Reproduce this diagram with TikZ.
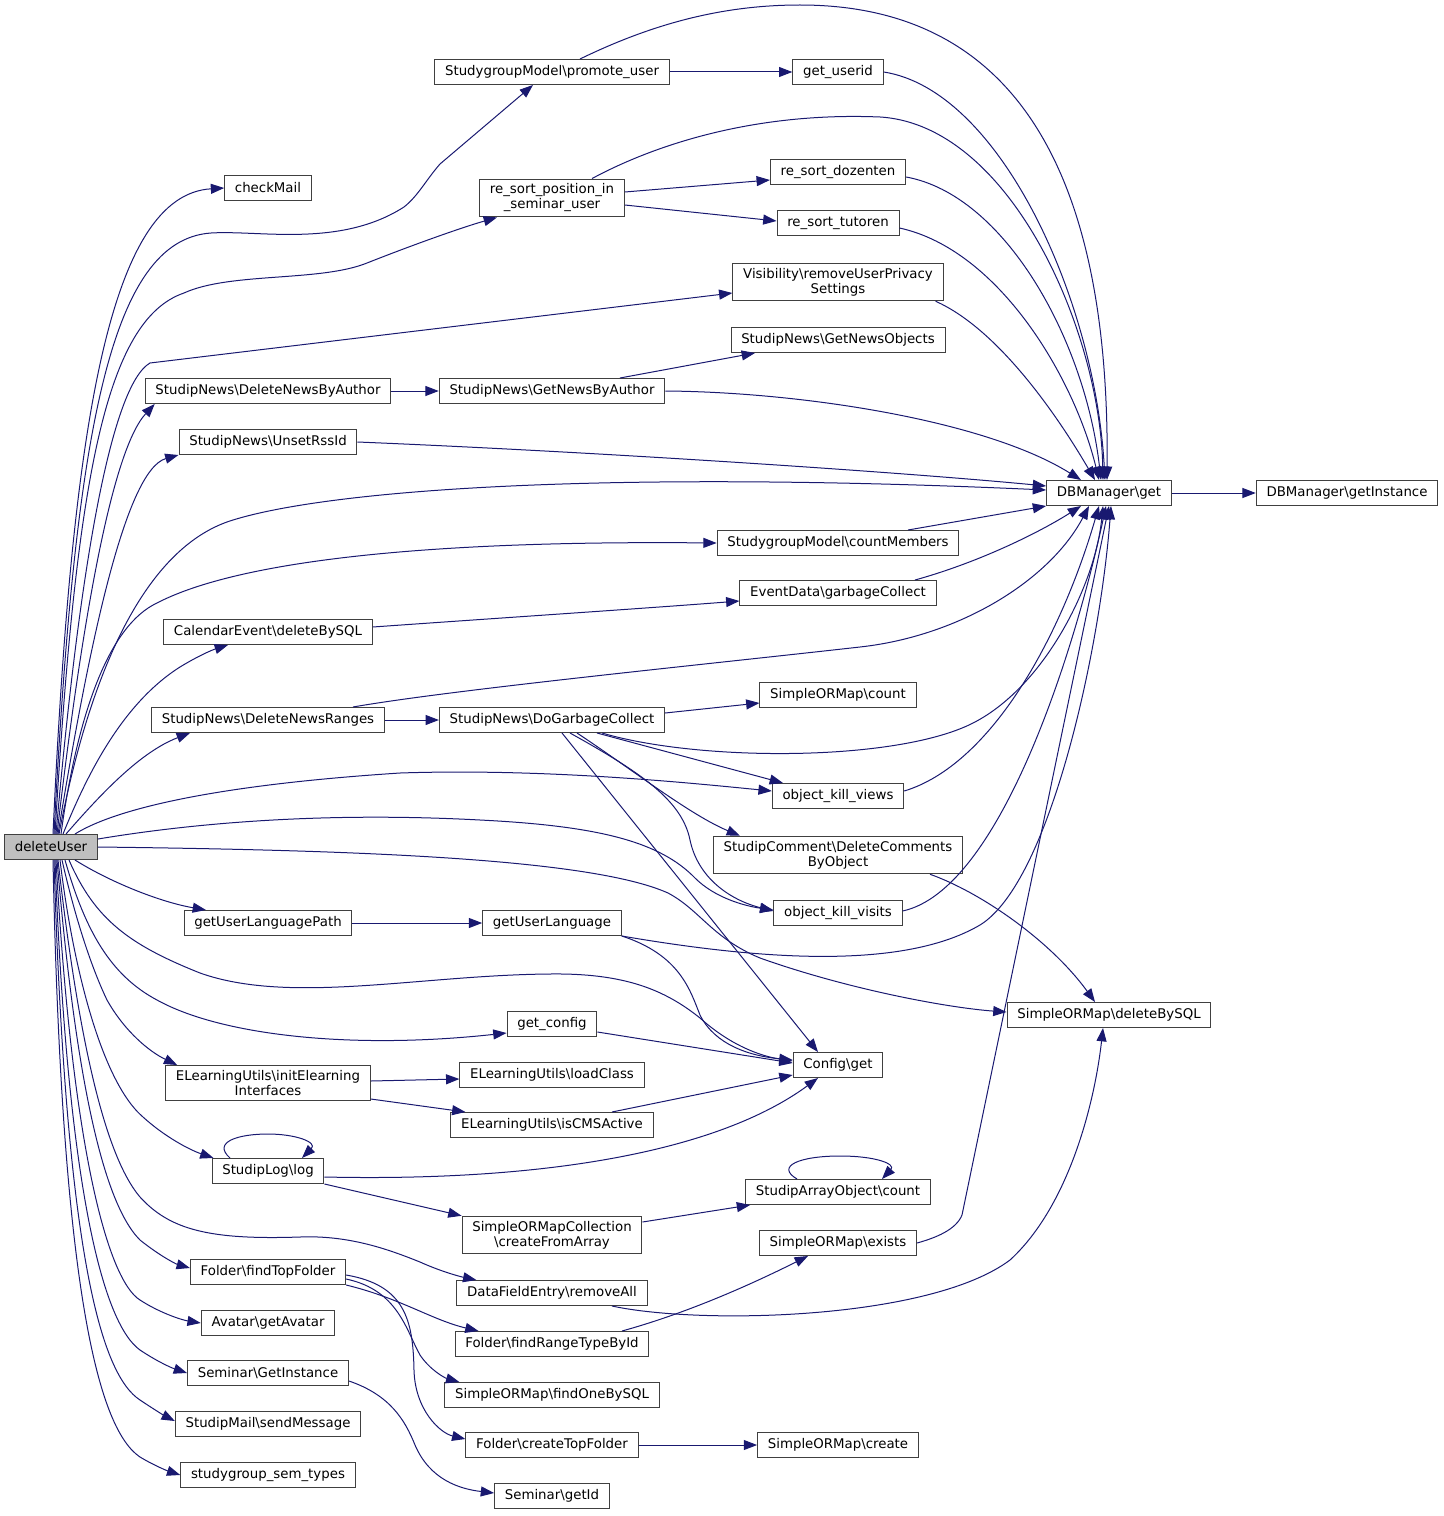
\documentclass[tikz,border=0pt]{standalone}
\usepackage{fontspec}
\setmainfont{DejaVu Sans}
\usetikzlibrary{calc,arrows.meta}
\definecolor{callblue}{HTML}{191970}
\def\bsl{\textbackslash}
\tikzset{
	fn/.style={draw=black!75, line width=0.75pt, fill=white, font=\fontsize{10}{11.25}\selectfont, inner xsep=7.7pt, inner ysep=3.6pt, minimum height=18.75pt, align=center},
	fnroot/.style={fn, fill=black!25},
	call/.style={draw=callblue, line width=0.75pt, -{Triangle[length=10pt,width=7.5pt]}}
}

\begin{document}
\begin{tikzpicture}[x=0.75pt, y=-0.75pt]
		%%%%% START %%%%%
		\useasboundingbox (0,0) rectangle (1443,1516);
		
		\node[fnroot] (du) at (51,847) {deleteUser};
		
		\node[fn] (cm) at (268,188) {checkMail};
		\node[fn] (dnba) at (268,391) {StudipNews\bsl DeleteNewsByAuthor};
		\node[fn] (urs) at (268,442) {StudipNews\bsl UnsetRssId};
		\node[fn] (ced) at (268,632) {CalendarEvent\bsl deleteBySQL};
		\node[fn] (dnr) at (268,720) {StudipNews\bsl DeleteNewsRanges};
		\node[fn] (ulp) at (268,923) {getUserLanguagePath};
		\node[fn] (iei) at (268,1083) {ELearningUtils\bsl initElearning\\Interfaces};
		\node[fn] (log) at (268,1171) {StudipLog\bsl log};
		\node[fn] (ftf) at (268,1272) {Folder\bsl findTopFolder};
		\node[fn] (ava) at (268,1323) {Avatar\bsl getAvatar};
		\node[fn] (sgi) at (268,1373) {Seminar\bsl GetInstance};
		\node[fn] (smail) at (268,1424) {StudipMail\bsl sendMessage};
		\node[fn] (sst) at (268,1475) {studygroup\_sem\_types};
		
		\node[fn] (pu) at (552,72) {StudygroupModel\bsl promote\_user};
		\node[fn] (rsp) at (552,198) {re\_sort\_position\_in\\\_seminar\_user};
		\node[fn] (gnba) at (552,391) {StudipNews\bsl GetNewsByAuthor};
		\node[fn] (dgc) at (552,720) {StudipNews\bsl DoGarbageCollect};
		\node[fn] (ul) at (552,923) {getUserLanguage};
		\node[fn] (gcfg) at (552,1024) {get\_config};
		\node[fn] (lc) at (552,1075) {ELearningUtils\bsl loadClass};
		\node[fn] (cms) at (552,1125) {ELearningUtils\bsl isCMSActive};
		\node[fn] (cfa) at (552,1235) {SimpleORMapCollection\\\bsl createFromArray};
		\node[fn] (dfe) at (552,1293) {DataFieldEntry\bsl removeAll};
		\node[fn] (frt) at (552,1344) {Folder\bsl findRangeTypeById};
		\node[fn] (fob) at (552,1395) {SimpleORMap\bsl findOneBySQL};
		\node[fn] (ctf) at (552,1445) {Folder\bsl createTopFolder};
		\node[fn] (sid) at (552,1496) {Seminar\bsl getId};
		
		\node[fn] (gu) at (838,72) {get\_userid};
		\node[fn] (rsd) at (838,172) {re\_sort\_dozenten};
		\node[fn] (rst) at (838,223) {re\_sort\_tutoren};
		\node[fn] (vis) at (838,282) {Visibility\bsl removeUserPrivacy\\Settings};
		\node[fn] (gno) at (838,340) {StudipNews\bsl GetNewsObjects};
		\node[fn] (cnt) at (838,543) {StudygroupModel\bsl countMembers};
		\node[fn] (gc) at (838,593) {EventData\bsl garbageCollect};
		\node[fn] (socount) at (838,695) {SimpleORMap\bsl count};
		\node[fn] (okv) at (838,796) {object\_kill\_views};
		\node[fn] (dcbo) at (838,855) {StudipComment\bsl DeleteComments\\ByObject};
		\node[fn] (okvi) at (838,913) {object\_kill\_visits};
		\node[fn] (cfg) at (838,1065) {Config\bsl get};
		\node[fn] (sac) at (838,1192) {StudipArrayObject\bsl count};
		\node[fn] (ex) at (838,1243) {SimpleORMap\bsl exists};
		\node[fn] (create) at (838,1445) {SimpleORMap\bsl create};
		
		\node[fn] (dbg) at (1109,493) {DBManager\bsl get};
		\node[fn] (sodel) at (1109,1015) {SimpleORMap\bsl deleteBySQL};
		\node[fn] (dbi) at (1347,493) {DBManager\bsl getInstance};
		
		% calls out of deleteUser
		\draw[call] ($(du.north)+(2,0)$) .. controls (72,420) and (110,195) .. (cm.west);
		\draw[call] ($(du.north)+(3,0)$) .. controls (75,430) and (110,240) .. (211,233) .. controls (260,230) and (340,248) .. (404,207) .. controls (418,196) and (426,180) .. (440,164) -- ($(pu.south)+(-19,0)$);
		\draw[call] ($(du.north)+(4,0)$) .. controls (76,480) and (105,320) .. (184,293) .. controls (230,272) and (320,282) .. (367,263) .. controls (410,246) and (460,228) .. ($(rsp.south)+(-55,0)$);
		\draw[call] ($(du.north)+(5,0)$) .. controls (80,560) and (112,385) .. (150,363) -- ($(vis.west)+(0,11)$);
		\draw[call] ($(du.north)+(6,0)$) .. controls (82,620) and (112,450) .. ($(dnba.south west)+(10,0)$);
		\draw[call] ($(du.north)+(7,0)$) .. controls (88,650) and (125,470) .. (urs.south west);
		\draw[call] ($(du.north)+(8,0)$) .. controls (92,660) and (150,545) .. (233,520) .. controls (330,490) and (600,470) .. ($(dbg.west)+(0,-3)$);
		\draw[call] ($(du.north)+(10,0)$) .. controls (78,710) and (110,625) .. (157,603) .. controls (230,565) and (400,540) .. (cnt.west);
		\draw[call] ($(du.north)+(12,0)$) .. controls (85,780) and (120,705) .. (180,667) .. controls (198,656) and (212,650) .. ($(ced.south)+(-40,0)$);
		\draw[call] ($(du.north)+(15,0)$) .. controls (100,795) and (140,752) .. ($(dnr.south)+(-78,0)$);
		\draw[call] ($(du.north)+(24,0)$) .. controls (110,812) and (200,786) .. (400,773) .. controls (550,768) and (700,784) .. ($(okv.west)+(0,-5)$);
		\draw[call] ($(du.east)+(0,-8)$) .. controls (200,822) and (330,812) .. (480,820) .. controls (600,826) and (660,842) .. (695,878) .. controls (715,898) and (745,906) .. ($(okvi.west)+(0,-3)$);
		\draw[call] (du.east) .. controls (350,850) and (590,858) .. (668,893) .. controls (700,910) and (712,938) .. (760,958) .. controls (850,990) and (950,1008) .. ($(sodel.west)+(0,-3)$);
		\draw[call] ($(du.south)+(24,0)$) .. controls (110,882) and (160,902) .. ($(ulp.north)+(-62,0)$);
		\draw[call] ($(du.south)+(18,0)$) .. controls (95,920) and (130,945) .. (200,973) .. controls (290,1005) and (420,975) .. (550,974) .. controls (625,973) and (665,990) .. (700,1018) .. controls (730,1045) and (760,1056) .. ($(cfg.west)+(0,-4)$);
		\draw[call] ($(du.south)+(14,0)$) .. controls (85,930) and (110,975) .. (157,1000) .. controls (220,1035) and (350,1050) .. ($(gcfg.west)+(0,9)$);
		\draw[call] ($(du.south)+(11,0)$) .. controls (78,930) and (95,975) .. (107,1000) .. controls (125,1032) and (150,1052) .. ($(iei.north west)+(12,0)$);
		\draw[call] ($(du.south)+(9,0)$) .. controls (72,960) and (100,1080) .. (143,1117) .. controls (165,1137) and (190,1150) .. ($(log.north west)+(2,0)$);
		\draw[call] ($(du.south)+(7,0)$) .. controls (75,1010) and (100,1150) .. (140,1197) .. controls (170,1230) and (210,1240) .. (300,1237) .. controls (350,1235) and (390,1250) .. (420,1262) .. controls (442,1272) and (462,1277) .. ($(dfe.north west)+(20,0)$);
		\draw[call] ($(du.south)+(6,0)$) .. controls (74,1060) and (100,1200) .. (140,1240) .. controls (160,1256) and (176,1264) .. ($(ftf.west)+(0,-4)$);
		\draw[call] ($(du.south)+(5,0)$) .. controls (72,1150) and (108,1280) .. (140,1300) .. controls (160,1313) and (182,1320) .. (ava.west);
		\draw[call] ($(du.south)+(4,0)$) .. controls (68,1200) and (105,1325) .. (140,1350) .. controls (158,1362) and (172,1368) .. (sgi.west);
		\draw[call] ($(du.south)+(3,0)$) .. controls (66,1260) and (102,1375) .. (140,1400) .. controls (155,1410) and (165,1416) .. ($(smail.west)+(0,-3)$);
		\draw[call] ($(du.south)+(2,0)$) .. controls (62,1300) and (100,1430) .. (140,1457) .. controls (155,1466) and (168,1471) .. (sst.west);
		
		% upper part
		\draw[call] (pu) -- (gu);
		\draw[call] ($(pu.north)+(28,0)$) .. controls (650,25) and (720,5) .. (800,5) .. controls (1000,5) and (1110,150) .. ($(dbg.north)+(-2,0)$);
		\draw[call] (gu.east) .. controls (1000,90) and (1095,300) .. ($(dbg.north)+(-4,0)$);
		\draw[call] ($(rsp.east)+(0,-6)$) -- ($(rsd.west)+(0,8)$);
		\draw[call] ($(rsp.east)+(0,7)$) -- ($(rst.west)+(0,-2)$);
		\draw[call] ($(rsp.north)+(40,0)$) .. controls (660,142) and (760,112) .. (880,117) .. controls (1010,125) and (1100,330) .. ($(dbg.north)+(-6,0)$);
		\draw[call] ($(rsd.east)+(0,5)$) .. controls (1005,195) and (1085,340) .. ($(dbg.north)+(-8,0)$);
		\draw[call] ($(rst.east)+(0,5)$) .. controls (1000,250) and (1075,380) .. ($(dbg.north)+(-10,0)$);
		\draw[call] ($(vis.south east)+(-8,0)$) .. controls (1000,330) and (1060,420) .. ($(dbg.north)+(-14,0)$);
		\draw[call] (dnba) -- (gnba);
		\draw[call] ($(gnba.north)+(68,0)$) -- ($(gno.south)+(-83,0)$);
		\draw[call] (gnba.east) .. controls (800,392) and (985,420) .. ($(dbg.north)+(-28,0)$);
		\draw[call] (urs.east) .. controls (600,452) and (900,472) .. ($(dbg.west)+(0,-7)$);
		\draw[call] ($(cnt.north)+(70,0)$) -- (dbg.south west);
		\draw[call] ($(gc.north)+(77,0)$) .. controls (980,562) and (1040,532) .. ($(dbg.south)+(-28,0)$);
		\draw[call] ($(ced.east)+(0,-5)$) .. controls (500,618) and (650,608) .. ($(gc.west)+(0,8)$);
		\draw[call] (dbg) -- (dbi);
		
		% garbage collection
		\draw[call] ($(dnr.north)+(85,0)$) .. controls (450,690) and (700,665) .. (860,647) .. controls (960,636) and (1050,580) .. ($(dbg.south)+(-20,0)$);
		\draw[call] (dnr) -- (dgc);
		\draw[call] ($(dgc.east)+(0,-7)$) -- ($(socount.west)+(0,8)$);
		\draw[call] ($(dgc.south)+(50,0)$) .. controls (700,762) and (900,762) .. (975,722) .. controls (1045,685) and (1095,585) .. ($(dbg.south)+(-6,0)$);
		\draw[call] ($(dgc.south)+(45,0)$) -- ($(okv.north)+(-55,0)$);
		\draw[call] ($(dgc.south)+(25,0)$) .. controls (630,768) and (690,815) .. ($(dcbo.north)+(-98,0)$);
		\draw[call] ($(dgc.south)+(18,0)$) .. controls (640,772) and (682,800) .. (690,840) .. controls (698,878) and (730,900) .. ($(okvi.west)+(0,-2)$);
		\draw[call] ($(dgc.south)+(10,0)$) -- ($(cfg.north)+(-20,0)$);
		\draw[call] ($(okv.east)+(0,-5)$) .. controls (990,765) and (1060,640) .. ($(dbg.south)+(-10,0)$);
		\draw[call] ($(okvi.east)+(0,-2)$) .. controls (1000,890) and (1075,650) .. ($(dbg.south)+(-3,0)$);
		\draw[call] ($(dcbo.south)+(92,0)$) .. controls (980,892) and (1050,940) .. ($(sodel.north)+(-14,0)$);
		
		% language and config
		\draw[call] (ulp) -- (ul);
		\draw[call] (ul.south east) .. controls (750,958) and (900,972) .. (980,925) .. controls (1050,882) and (1100,650) .. ($(dbg.south)+(2,0)$);
		\draw[call] (ul.south east) .. controls (680,955) and (690,990) .. (700,1015) .. controls (715,1045) and (750,1056) .. ($(cfg.west)+(0,-5)$);
		\draw[call] ($(gcfg.east)+(0,8)$) -- ($(cfg.west)+(0,-2)$);
		\draw[call] ($(iei.east)+(0,-2)$) -- ($(lc.west)+(0,4)$);
		\draw[call] ($(iei.east)+(0,16)$) -- ($(cms.north west)+(15,0)$);
		\draw[call] ($(cms.north)+(60,0)$) -- ($(cfg.west)+(0,10)$);
		
		% log, folders, lower part
		\draw[call] ($(log.east)+(0,6)$) .. controls (550,1182) and (720,1150) .. ($(cfg.south)+(-20,0)$);
		\draw[call] ($(log.north)+(-38,0)$) .. controls (212,1142) and (238,1134) .. (268,1134) .. controls (295,1134) and (318,1142) .. ($(log.north)+(34,0)$);
		\draw[call] (log.south east) -- (cfa.north west);
		\draw[call] ($(cfa.east)+(0,-13)$) -- ($(sac.south west)+(5,0)$);
		\draw[call] ($(sac.north)+(-41,0)$) .. controls (775,1166) and (800,1156) .. (840,1156) .. controls (876,1156) and (896,1164) .. ($(sac.north)+(44,0)$);
		\draw[call] (ex.east) .. controls (935,1238) and (956,1230) .. (962,1215) -- (dbg.south);
		\draw[call] (ftf.south east) .. controls (400,1298) and (432,1320) .. ($(frt.north west)+(24,0)$);
		\draw[call] ($(ftf.east)+(0,7)$) .. controls (398,1290) and (406,1330) .. (420,1355) .. controls (430,1370) and (445,1378) .. ($(fob.north west)+(15,0)$);
		\draw[call] ($(ftf.east)+(0,3)$) .. controls (405,1285) and (413,1320) .. (414,1370) .. controls (415,1410) and (440,1433) .. ($(ctf.west)+(0,-6)$);
		\draw[call] ($(dfe.south)+(60,0)$) .. controls (700,1325) and (930,1320) .. (1010,1260) .. controls (1070,1205) and (1095,1100) .. ($(sodel.south)+(-6,0)$);
		\draw[call] ($(frt.north)+(70,0)$) .. controls (680,1315) and (740,1290) .. ($(ex.south)+(-30,0)$);
		\draw[call] ($(sgi.east)+(0,8)$) .. controls (390,1395) and (405,1420) .. (415,1445) .. controls (430,1480) and (460,1489) .. ($(sid.west)+(0,-3)$);
		\draw[call] (ctf) -- (create);
		
		%%%%% END %%%%%
\end{tikzpicture}
\end{document}
